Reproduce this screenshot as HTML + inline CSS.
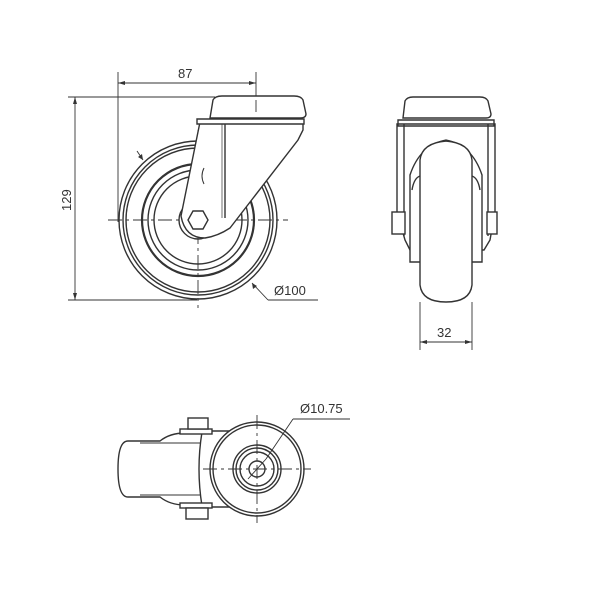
<!DOCTYPE html>
<html><head><style>body{margin:0;background:#fff}svg{display:block}text{font-family:"Liberation Sans",sans-serif;fill:#333;stroke:none}</style></head><body>
<svg width="600" height="600" viewBox="0 0 600 600" xmlns="http://www.w3.org/2000/svg" fill="none" stroke="#333" stroke-width="1.4">
<!-- SIDE VIEW -->
<g stroke-width="0.9">
<line x1="118" y1="72" x2="118" y2="222"/><line x1="256" y1="72" x2="256" y2="114"/>
<line x1="118" y1="83" x2="256" y2="83"/>
<line x1="68" y1="97" x2="215" y2="97"/><line x1="68" y1="300" x2="197" y2="300"/>
<line x1="75" y1="97" x2="75" y2="300"/>
<line x1="252" y1="283" x2="268" y2="300"/><line x1="268" y1="300" x2="318" y2="300"/>
<line x1="137" y1="151" x2="143" y2="160"/>
<line x1="108" y1="220" x2="288" y2="220" stroke-dasharray="14,4,3,4"/>
<line x1="198" y1="130" x2="198" y2="308" stroke-dasharray="14,4,3,4"/>
</g>
<path d="M118,83l7,-2v4z M256,83l-7,-2v4z M75,97l-2,7h4z M75,300l-2,-7h4z M252,283l1,6 4,-3z M143,160l-1,-6 -4,3z" fill="#333" stroke="none"/>
<text x="178" y="78" font-size="13">87</text>
<text x="0" y="0" font-size="13" transform="translate(71,211) rotate(-90)">129</text>
<text x="274" y="295" font-size="13">Ø100</text>
<circle cx="198" cy="220" r="79"/><circle cx="198" cy="220" r="75"/><circle cx="198" cy="220" r="72"/>
<circle cx="198" cy="220" r="56" stroke-width="2.2"/><circle cx="198" cy="220" r="50"/><circle cx="198" cy="220" r="44"/>
<circle cx="198" cy="220" r="19"/>
<path d="M200,122 L181,216 Q185,238 205,238 Q218,236 230,228 L298,140 L303,130 L303,122 Z" fill="#fff"/>
<polygon points="188,220 193,211 203,211 208,220 203,229 193,229" fill="#fff"/>
<line x1="225" y1="122" x2="225" y2="218"/><line x1="222" y1="122" x2="222" y2="218" stroke-width="0.7"/>
<path d="M197,119h107v5h-107z" fill="#fff"/>
<path d="M210,118 L213,100 Q215,96 222,96 L294,96 Q301,96 303,100 L306,114 Q306,118 300,118 Z" fill="#fff"/>
<line x1="256" y1="100" x2="256" y2="112" stroke-width="0.9"/>
<path d="M204,168q-4,8 0,16" stroke-width="1"/>
<!-- FRONT VIEW -->
<path d="M397,124 L397,212 L405,240 L410,250 L484,250 L490,240 L495,212 L495,124 Z"/>
<line x1="404" y1="124" x2="404" y2="236"/><line x1="488" y1="124" x2="488" y2="236"/>
<path d="M398,120h96v6h-96z"/>
<path d="M410,175 Q420,145 446,140 Q472,145 482,175 L482,262 L410,262 Z" fill="#fff"/>
<path d="M420,160 Q422,143 446,141 Q470,143 472,160 L472,285 Q470,302 446,302 Q422,302 420,285 Z" fill="#fff"/>
<path d="M412,190 Q414,178 420,176 M480,190 Q478,178 472,176" />
<rect x="392" y="212" width="13" height="22" fill="#fff"/><rect x="487" y="212" width="10" height="22" fill="#fff"/>
<path d="M403,118 L405,101 Q407,97 413,97 L480,97 Q486,97 488,101 L491,114 Q491,118 486,118 Z" fill="#fff"/>
<g stroke-width="0.9"><line x1="420" y1="302" x2="420" y2="350"/><line x1="472" y1="302" x2="472" y2="350"/><line x1="420" y1="342" x2="472" y2="342"/></g>
<path d="M420,342l7,-2v4z M472,342l-7,-2v4z" fill="#333" stroke="none"/>
<text x="437" y="337" font-size="13">32</text>
<!-- BOTTOM VIEW -->
<path d="M160,441 L128,441 Q118,441 118,469 Q118,497 128,497 L160,497 Q170,505 185,505 L210,507 L230,507 L230,431 L210,431 L185,433 Q170,433 160,441 Z" fill="#fff"/>
<line x1="140" y1="443" x2="200" y2="443" stroke-width="0.9"/><line x1="140" y1="495" x2="200" y2="495" stroke-width="0.9"/>
<path d="M202,432 Q196,469 202,506" />
<rect x="180" y="429" width="32" height="5" fill="#fff"/><rect x="180" y="503" width="32" height="5" fill="#fff"/>
<rect x="188" y="418" width="20" height="11" fill="#fff"/><rect x="186" y="508" width="22" height="11" fill="#fff"/>
<circle cx="257" cy="469" r="47" fill="#fff"/><circle cx="257" cy="469" r="44"/>
<circle cx="257" cy="469" r="24"/><circle cx="257" cy="469" r="21"/><circle cx="257" cy="469" r="17"/>
<circle cx="257" cy="469" r="8"/>
<g stroke-width="0.9">
<line x1="203" y1="469" x2="311" y2="469" stroke-dasharray="14,4,3,4"/>
<line x1="257" y1="415" x2="257" y2="523" stroke-dasharray="14,4,3,4"/>
<line x1="248" y1="479" x2="266" y2="459"/><line x1="266" y1="459" x2="293" y2="419"/><line x1="293" y1="419" x2="350" y2="419"/>
</g>
<text x="300" y="413" font-size="13">Ø10.75</text>
</svg>
</body></html>
